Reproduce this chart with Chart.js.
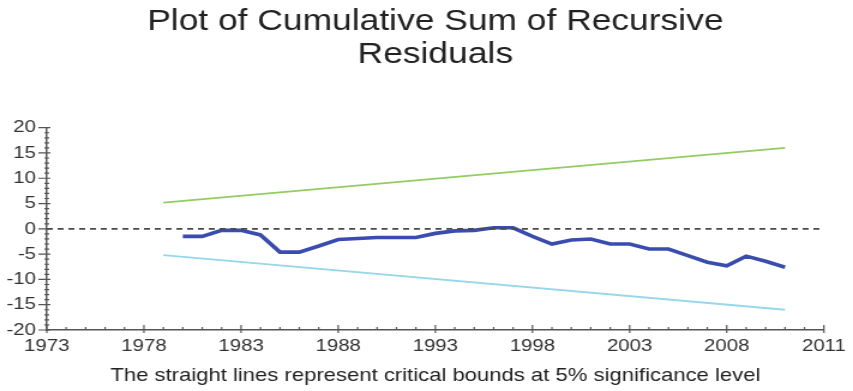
<!DOCTYPE html>
<html>
<head>
<meta charset="utf-8">
<title>CUSUM</title>
<script src="https://cdn.jsdelivr.net/npm/chart.js@4.4.1/dist/chart.umd.min.js"></script>
<style>
    html, body { margin: 0; padding: 0; background: #fff; }
</style>
</head>
<body>
<!-- the reference is stretched sideways, so the canvas is drawn narrower and widened by css -->
<canvas id="chart" width="711" height="391" style="width:853px;height:391px;display:block"></canvas>
<script>
// cumulative sum of recursive residuals, one value per year
const years = [1980, 1981, 1982, 1983, 1984, 1985, 1986, 1987, 1988, 1989, 1990,
               1991, 1992, 1993, 1994, 1995, 1996, 1997, 1998, 1999, 2000, 2001,
               2002, 2003, 2004, 2005, 2006, 2007, 2008, 2009, 2010, 2011];
const cusum = [-1.5, -1.5, -0.3, -0.3, -1.2, -4.6, -4.6, -3.4, -2.1, -1.9, -1.7,
               -1.7, -1.7, -0.9, -0.4, -0.3, 0.2, 0.2, -1.5, -3.0, -2.2, -2.0,
               -3.0, -3.0, -4.0, -4.0, -5.3, -6.6, -7.3, -5.4, -6.4, -7.6];

// 5% critical bounds (straight lines)
const boundYears = [1979, 2011];
const upperBound = [5.2, 16.0];
const lowerBound = [-5.2, -16.0];

// zero reference line
const zeroYears = [1973, 2013];
const zeroLine = [0, 0];

// axes
const xTickValues = [1973, 1978, 1983, 1988, 1993, 1998, 2003, 2008, 2013];
const xTickLabels = ['1973', '1978', '1983', '1988', '1993', '1998', '2003', '2008', '2011'];
const yTickValues = [-20, -15, -10, -5, 0, 5, 10, 15, 20];

const titleLines = ['Plot of Cumulative Sum of Recursive', 'Residuals'];
const xTitle = 'The straight lines represent critical bounds at 5% significance level';

const FONT = '"Liberation Sans", Arial, Helvetica, sans-serif';
const AXIS = '#555555';

function toPoints(xs, ys) {
    return xs.map((x, i) => ({ x: x, y: ys[i] }));
}

// small and big tick marks along both axes
const axisTicks = {
    id: 'axisTicks',
    afterDraw(chart) {
        const { ctx, scales: { x, y } } = chart;
        const left = x.left;
        const bottom = y.bottom;
        ctx.save();
        ctx.strokeStyle = AXIS;
        ctx.lineWidth = 1.2;
        ctx.beginPath();
        for (let v = x.min; v <= x.max; v++) {
            const px = x.getPixelForValue(v);
            const major = (v - x.min) % 5 === 0;
            ctx.moveTo(px, bottom + (major ? 3 : 0));
            ctx.lineTo(px, bottom - (major ? 5 : 3));
        }
        for (let v = y.min; v <= y.max; v++) {
            const py = y.getPixelForValue(v);
            const major = v % 5 === 0;
            ctx.moveTo(left - (major ? 7 : 2), py);
            ctx.lineTo(left + (major ? 3 : 2), py);
        }
        ctx.stroke();
        ctx.restore();
    }
};

new Chart(document.getElementById('chart'), {
    type: 'line',
    data: {
        datasets: [
            {
                label: 'Zero',
                data: toPoints(zeroYears, zeroLine),
                borderColor: '#4a4a4a',
                borderWidth: 1.6,
                borderDash: [5, 4],
                pointRadius: 0
            },
            {
                label: 'Upper bound',
                data: toPoints(boundYears, upperBound),
                borderColor: '#92cc63',
                borderWidth: 1.8,
                pointRadius: 0
            },
            {
                label: 'Lower bound',
                data: toPoints(boundYears, lowerBound),
                borderColor: '#96d7ea',
                borderWidth: 1.8,
                pointRadius: 0
            },
            {
                label: 'CUSUM',
                data: toPoints(years, cusum),
                borderColor: '#3a4cae',
                borderWidth: 3.6,
                pointRadius: 0,
                tension: 0
            }
        ]
    },
    options: {
        responsive: false,
        animation: false,
        layout: {
            padding: { left: 0, right: 20, top: 0, bottom: 0 }
        },
        plugins: {
            legend: { display: false },
            tooltip: { enabled: false },
            title: {
                display: true,
                fullSize: false,
                text: titleLines,
                color: '#222',
                font: { family: FONT, size: 29.5, weight: 'normal', lineHeight: 1.13 },
                padding: { top: 5, bottom: 56 }
            }
        },
        scales: {
            x: {
                type: 'linear',
                min: 1973,
                max: 2013,
                afterBuildTicks: (scale) => {
                    scale.ticks = xTickValues.map(v => ({ value: v }));
                },
                afterFit: (scale) => { scale.height = 61; },
                grid: { display: false, drawTicks: false, tickLength: 0 },
                border: { display: true, color: AXIS, width: 1.5 },
                ticks: {
                    padding: 6,
                    color: '#333',
                    font: { family: FONT, size: 17 },
                    maxRotation: 0,
                    autoSkip: false,
                    callback: (value, index) => xTickLabels[index]
                },
                title: {
                    display: true,
                    text: xTitle,
                    color: '#222',
                    font: { family: FONT, size: 18.4 },
                    padding: { top: 0, bottom: 4 }
                }
            },
            y: {
                min: -20,
                max: 20,
                afterBuildTicks: (scale) => {
                    scale.ticks = yTickValues.map(v => ({ value: v }));
                },
                afterFit: (scale) => { scale.width = 39; },
                grid: { display: false, drawTicks: false, tickLength: 0 },
                border: { display: true, color: AXIS, width: 1.5 },
                ticks: {
                    padding: 9,
                    color: '#333',
                    font: { family: FONT, size: 17 }
                }
            }
        }
    },
    plugins: [axisTicks]
});
</script>
</body>
</html>
